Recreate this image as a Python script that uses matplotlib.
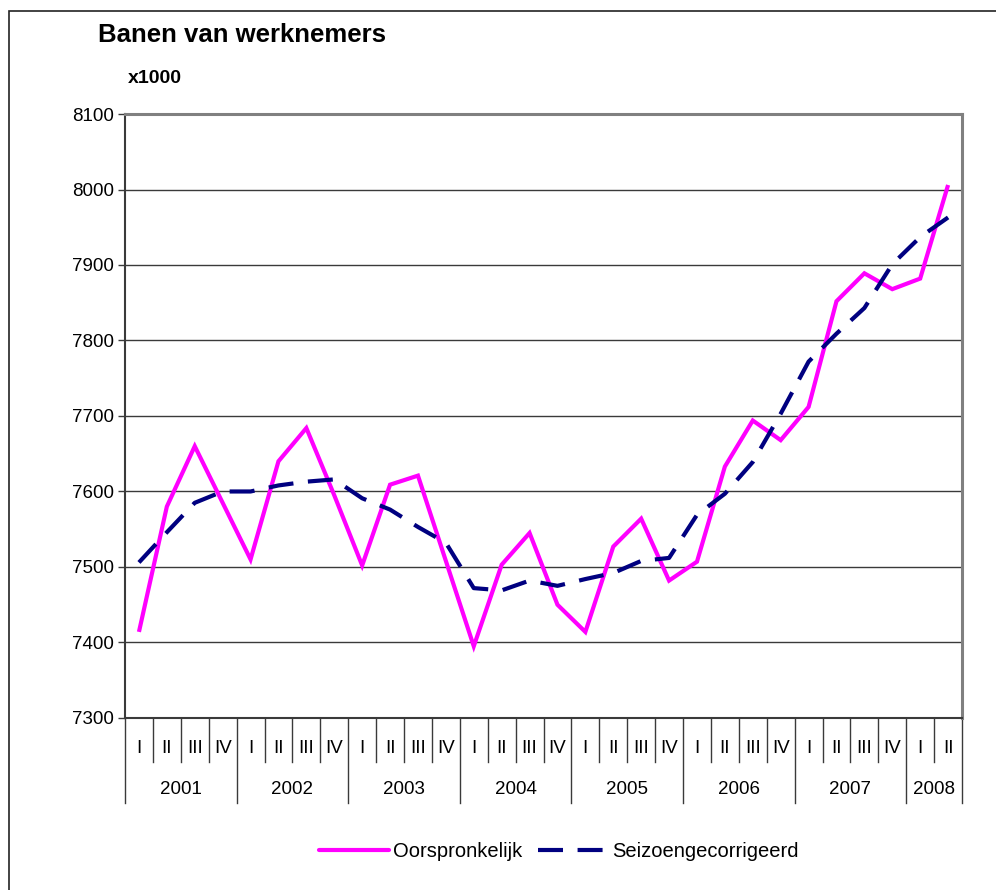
"""Banen van werknemers: original vs seasonally adjusted, per quarter."""

import matplotlib

matplotlib.use("Agg")
import matplotlib.pyplot as plt
import matplotlib.transforms as mtransforms
from matplotlib.lines import Line2D
from matplotlib.patches import Rectangle
import numpy as np

plt.rcParams["font.family"] = ["Liberation Sans", "DejaVu Sans"]

# data (x1000 jobs), 2001 I .. 2008 II
years = ["2001", "2002", "2003", "2004", "2005", "2006", "2007", "2008"]
quarters = ["I", "II", "III", "IV"] * 7 + ["I", "II"]
oorspronkelijk = [7414, 7580, 7660, 7585, 7510, 7640, 7684, 7595, 7502, 7609,
                  7621, 7508, 7395, 7503, 7545, 7450, 7414, 7527, 7564, 7482,
                  7507, 7633, 7694, 7668, 7712, 7852, 7889, 7868, 7882, 8006]
seizoen = [7506, 7546, 7585, 7600, 7600, 7608, 7613, 7616, 7591, 7576,
           7553, 7532, 7472, 7469, 7482, 7475, 7484, 7492, 7508, 7512,
           7569, 7597, 7639, 7703, 7772, 7809, 7843, 7901, 7937, 7963]

PINK = "#FF00FF"
NAVY = "#000080"
FRAME = "#808080"
DARK = "#3a3a3a"
FS = 13.5

fig = plt.figure(figsize=(9.96, 8.9), dpi=100)
ax = fig.add_axes([0.1255, 0.1933, 0.8404, 0.6786])

x = np.arange(len(quarters))
ax.plot(x, oorspronkelijk, color=PINK, lw=3, solid_capstyle="butt",
        solid_joinstyle="miter", zorder=3)
ax.plot(x, seizoen, color=NAVY, lw=3, dashes=(6, 3.5),
        dash_capstyle="butt", zorder=4)

ax.set_xlim(-0.5, len(quarters) - 0.5)
ax.set_ylim(7300, 8100)
ax.set_yticks(np.arange(7300, 8101, 100))
ax.tick_params(axis="y", labelsize=FS, length=5, width=1, color=DARK, pad=3)
ax.set_xticks([])
ax.grid(axis="y", color=DARK, lw=1, zorder=1)
ax.set_axisbelow(True)

for side in ("top", "right"):
    ax.spines[side].set_color(FRAME)
    ax.spines[side].set_linewidth(2.2)
for side in ("left", "bottom"):
    ax.spines[side].set_color(DARK)
    ax.spines[side].set_linewidth(1.5)

# category axis: quarters and years
trans = mtransforms.blended_transform_factory(ax.transData, ax.transAxes)
for i, q in enumerate(quarters):
    ax.text(i, -0.05, q, transform=trans, ha="center", va="center", fontsize=FS)
for b in range(len(quarters) + 1):
    depth = -0.141 if (b % 4 == 0 or b == len(quarters)) else -0.073
    ax.plot([b - 0.5, b - 0.5], [0, depth], transform=trans, color=DARK,
            lw=1, clip_on=False)
for k, yr in enumerate(years):
    start = 4 * k
    stop = min(4 * k + 4, len(quarters))
    ax.text((start + stop - 1) / 2, -0.119, yr, transform=trans,
            ha="center", va="center", fontsize=FS)

fig.text(0.098, 0.961, "Banen van werknemers", fontsize=18.5, fontweight="bold",
         ha="left", va="center")
fig.text(0.128, 0.912, "x1000", fontsize=14, fontweight="bold",
         ha="left", va="center")

handles = [
    Line2D([], [], color=PINK, lw=3, solid_capstyle="round"),
    Line2D([], [], color=NAVY, lw=3, dashes=(6, 3.5), dash_capstyle="butt"),
]
fig.legend(handles, ["Oorspronkelijk", "Seizoengecorrigeerd"], ncol=2,
           loc="center", bbox_to_anchor=(0.561, 0.043), frameon=False,
           fontsize=14.5, handlelength=3.5, handletextpad=0.2,
           columnspacing=0.75)

# outer chart border (only top and left visible in the crop)
fig.add_artist(Rectangle((0.009, -0.1), 1.2, 0.1 + 0.9876, fill=False,
                         edgecolor="#222222", lw=1.2,
                         transform=fig.transFigure, clip_on=False))

fig.savefig("out.png", dpi=100)
